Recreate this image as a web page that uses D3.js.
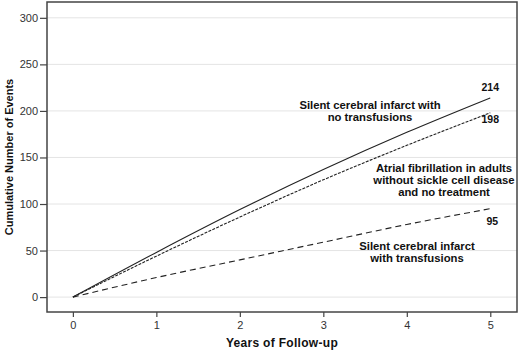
<!DOCTYPE html>
<html>
<head>
<meta charset="utf-8">
<script src="https://cdn.jsdelivr.net/npm/d3@7"></script>
<style>
  html, body { margin: 0; padding: 0; background: #fff; }
  svg { display: block; font-family: "Liberation Sans", Arial, sans-serif; }
</style>
</head>
<body>
<svg id="chart" width="520" height="350"></svg>
<script>
// ---- data ----
const years = [0, 1, 2, 3, 4, 5];
const sciNoTransfusion = [0, 48, 94, 137, 177, 214];
const afibNoTreatment  = [0, 44, 86, 126, 163, 198];
const sciTransfusion   = [0, 21, 40, 59, 78, 95];
const yTicks = [0, 50, 100, 150, 200, 250, 300];
const xTicks = [0, 1, 2, 3, 4, 5];
const endLabels = ["214", "198", "95"];
const notes = [
  ["Silent cerebral infarct with", "no transfusions"],
  ["Atrial fibrillation in adults", "without sickle cell disease", "and no treatment"],
  ["Silent cerebral infarct", "with transfusions"]
];

(function () {
const svg = d3.select("#chart");
const pL = 47, pR = 517, pT = 2, pB = 312;

const x = d3.scaleLinear().domain([-0.31, 5.32]).range([pL, pR]);
const y = d3.scaleLinear().domain([-16, 317]).range([pB, pT]);

// gridlines
svg.append("g")
  .selectAll("line")
  .data(yTicks)
  .join("line")
  .attr("x1", pL).attr("x2", pR)
  .attr("y1", d => y(d)).attr("y2", d => y(d))
  .attr("stroke", "#e4e4e4").attr("stroke-width", 1);

// axes
const yAxis = svg.append("g")
  .attr("transform", `translate(${pL},0)`)
  .call(d3.axisLeft(y).tickValues(yTicks).tickFormat(d3.format("d")).tickSize(7).tickPadding(2));
const xAxis = svg.append("g")
  .attr("transform", `translate(0,${pB})`)
  .call(d3.axisBottom(x).tickValues(xTicks).tickFormat(d3.format("d")).tickSize(5).tickPadding(4));
[yAxis, xAxis].forEach(g => {
  g.select(".domain").remove();
  g.selectAll(".tick line").attr("stroke", "#444").attr("stroke-width", 1.2);
  g.selectAll(".tick text").attr("fill", "#333")
    .style("font-family", "'Liberation Sans', Arial, sans-serif")
    .style("font-size", "11px");
});

// frame
svg.append("rect")
  .attr("x", pL).attr("y", pT)
  .attr("width", pR - pL).attr("height", pB - pT)
  .attr("fill", "none").attr("stroke", "#444").attr("stroke-width", 1.5);

// lines
const line = d3.line()
  .x((d, i) => x(years[i]))
  .y(d => y(d))
  .curve(d3.curveMonotoneX);

const series = [
  { values: sciNoTransfusion, dash: null },
  { values: afibNoTreatment, dash: "3,1.3" },
  { values: sciTransfusion, dash: "6,4" }
];
svg.append("g").selectAll("path")
  .data(series)
  .join("path")
  .attr("d", d => line(d.values))
  .attr("fill", "none")
  .attr("stroke", "#222")
  .attr("stroke-width", 1.1)
  .attr("stroke-dasharray", d => d.dash);

// end value labels
const endOffsets = [-11, 6, 12];
const lastSeries = [sciNoTransfusion, afibNoTreatment, sciTransfusion];
svg.append("g").selectAll("text")
  .data(endLabels)
  .join("text")
  .attr("x", (d, i) => x(years[years.length - 1]) + (i === 2 ? 2 : 0))
  .attr("y", (d, i) => y(lastSeries[i][lastSeries[i].length - 1]) + endOffsets[i])
  .attr("text-anchor", "middle")
  .attr("dominant-baseline", "central")
  .attr("font-size", "10.5px")
  .attr("font-weight", "bold")
  .attr("fill", "#111")
  .text(d => d);

// annotations
const notePos = [
  { cx: 370, cy: 105 },
  { cx: 444, cy: 168 },
  { cx: 417, cy: 246 }
];
notes.forEach((lines, k) => {
  const t = svg.append("text")
    .attr("text-anchor", "middle")
    .attr("font-size", "11.3px")
    .attr("font-weight", "bold")
    .attr("fill", "#111");
  lines.forEach((s, j) => {
    t.append("tspan")
      .attr("x", notePos[k].cx)
      .attr("y", notePos[k].cy + j * 11.8)
      .attr("dominant-baseline", "central")
      .text(s);
  });
});

// axis titles
svg.append("text")
  .attr("x", (pL + pR) / 2)
  .attr("y", 343)
  .attr("text-anchor", "middle")
  .attr("dominant-baseline", "central")
  .attr("font-size", "12px")
  .attr("font-weight", "bold")
  .attr("letter-spacing", "0.3px")
  .attr("fill", "#111")
  .text("Years of Follow-up");

svg.append("text")
  .attr("transform", `translate(9,${(pT + pB) / 2}) rotate(-90)`)
  .attr("text-anchor", "middle")
  .attr("dominant-baseline", "central")
  .attr("font-size", "11px")
  .attr("font-weight", "bold")
  .attr("fill", "#111")
  .text("Cumulative Number of Events");
})();
</script>
</body>
</html>
